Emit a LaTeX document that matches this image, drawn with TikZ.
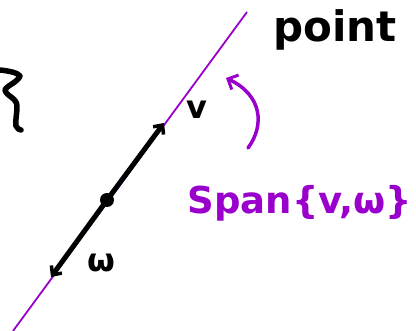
\documentclass[tikz,border=0pt]{standalone}
\usepackage{fontspec}
\setmainfont{DejaVu Sans}
\usetikzlibrary{arrows.meta}
\definecolor{spanpurple}{RGB}{153,0,204}
\begin{document}
\begin{tikzpicture}[x=1pt,y=-1pt,
  ink/.style={black,line width=5pt,line cap=round,line join=round},
  pline/.style={spanpurple,line width=1.8pt},
  vec/.style={ink,-{Straight Barb[length=7pt,width=13pt,line width=3.5pt]}},
  hand/.style={font=\bfseries\fontsize{32}{32}\selectfont, inner sep=0pt}]
\useasboundingbox (0,0) rectangle (416,331);
% span line
\coordinate (lb) at (13,331);
\coordinate (lt) at (247,12);
\draw[pline] (lb) -- (lt);
% origin dot and vectors
\coordinate (o) at (107,200);
\coordinate (vt) at (164,123);
\coordinate (wt) at (51,277);
\draw[vec] (o) -- (vt);
\draw[vec] (o) -- (wt);
\fill (o) circle (7pt);
% labels
\node[hand] (v) at (197,110) {v};
\node[hand] (w) at (101,263) {ω};
\node[hand, font=\bfseries\fontsize{42}{42}\selectfont] (pt) at (335,30) {point};
\node[hand, spanpurple, font=\bfseries\fontsize{37}{37}\selectfont] (span) at (300,203) {Span\{v,ω\}};
% curved purple arrow
\coordinate (ct) at (248,148);
\coordinate (ch) at (226,78);
\draw[spanpurple,line width=3.5pt,line cap=round,-{Straight Barb[length=8pt,width=16pt,line width=3pt]}] (ct) .. controls (265,125) and (262,95) .. (ch);
% brace fragment at left
\draw[ink,line width=5.5pt] (0,70) .. controls (10,71) and (18,73) .. (20,76) .. controls (18,82) and (6,86) .. (5,90) .. controls (6,96) and (17,98) .. (17,106) .. controls (17,114) and (15,122) .. (16,126) .. controls (17,129) and (20,130) .. (21,130);
\end{tikzpicture}
\end{document}
